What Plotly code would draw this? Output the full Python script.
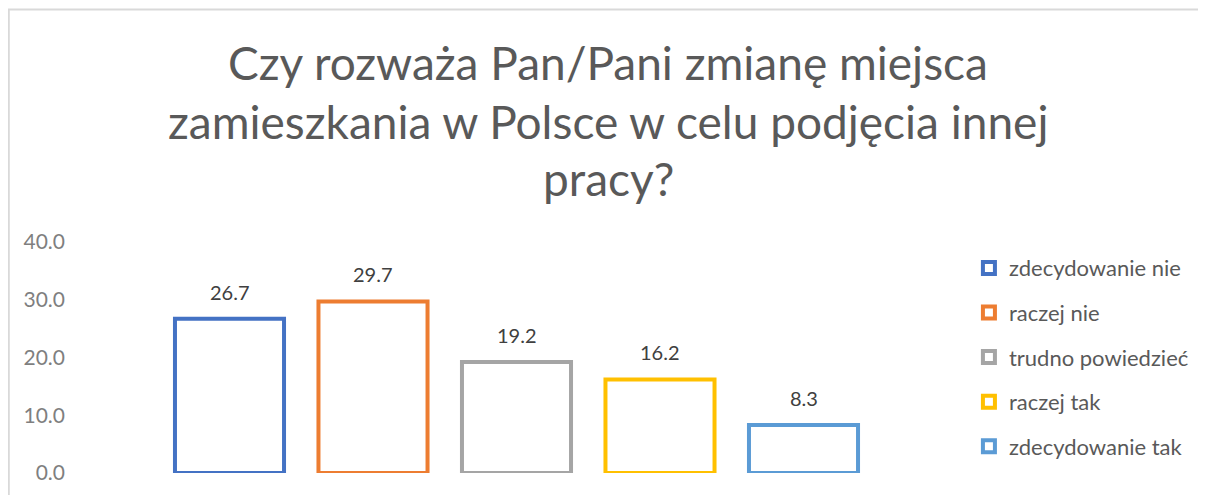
import plotly.graph_objects as go

categories = ["zdecydowanie nie", "raczej nie", "trudno powiedzieć", "raczej tak", "zdecydowanie tak"]
values = [26.7, 29.7, 19.2, 16.2, 8.3]
colors = ["#4472C4", "#ED7D31", "#A5A5A5", "#FFC000", "#5B9BD5"]
title_lines = ["Czy rozważa Pan/Pani zmianę miejsca",
               "zamieszkania w Polsce w celu podjęcia innej",
               "pracy?"]
y_ticks = [0, 10, 20, 30, 40]

FONT = "Lato"
OFF = 8  # page body margin
fig = go.Figure()
for i, (cat, val, col) in enumerate(zip(categories, values, colors)):
    fig.add_trace(go.Bar(
        x=[i], y=[val], name=cat, width=0.76,
        marker=dict(color="white", line=dict(color=col, width=4)),
        legendgroup=cat,
    ))
    fig.add_annotation(x=i, y=val, text=f"{val:.1f}", showarrow=False,
                       xanchor="center", yanchor="middle", yshift=27,
                       font=dict(family=FONT, size=20, color="#404040"))

W, H = 1198, 487
L, R, T, B = 86 - OFF, 950 - OFF, 242 - OFF, 473 - OFF
fig.update_layout(
    width=W, height=H,
    margin=dict(l=L, r=W - R, t=T, b=H - B),
    paper_bgcolor="white", plot_bgcolor="white",
    barmode="overlay",
    showlegend=True,
    legend=dict(x=(972 - OFF - R) / (R - L) + 1, y=0.978, xanchor="left", yanchor="top",
                font=dict(family=FONT, size=22, color="#595959"),
                tracegroupgap=13, itemwidth=30),
    xaxis=dict(range=[-1, 5], showticklabels=False, showgrid=False,
               zeroline=False, showline=False),
    yaxis=dict(range=[0, 40], tickvals=y_ticks, tickformat=".1f",
               showgrid=False, zeroline=False, showline=False,
               tickfont=dict(family=FONT, size=21, color="#7F7F7F"),
               ticklabelstandoff=20),
    font=dict(family=FONT),
)

# title lines (page-pixel centres)
title_y = [63, 121, 178]
for line, yp in zip(title_lines, title_y):
    fig.add_annotation(text=line, xref="paper", yref="paper",
                       x=(610 - OFF - L) / (R - L), y=(B - (yp - OFF)) / (B - T),
                       showarrow=False, xanchor="center", yanchor="middle",
                       font=dict(family=FONT, size=46, color="#595959"))

# chart border (top and left edges visible)
fig.add_shape(type="rect", xref="paper", yref="paper",
              x0=(0.5 - L) / (R - L), x1=(1230 - OFF - L) / (R - L),
              y0=(B - 520) / (B - T), y1=(B - (9.5 - OFF)) / (B - T),
              line=dict(color="#D9D9D9", width=2), fillcolor="rgba(0,0,0,0)",
              layer="below")

fig.write_html("out.html")
